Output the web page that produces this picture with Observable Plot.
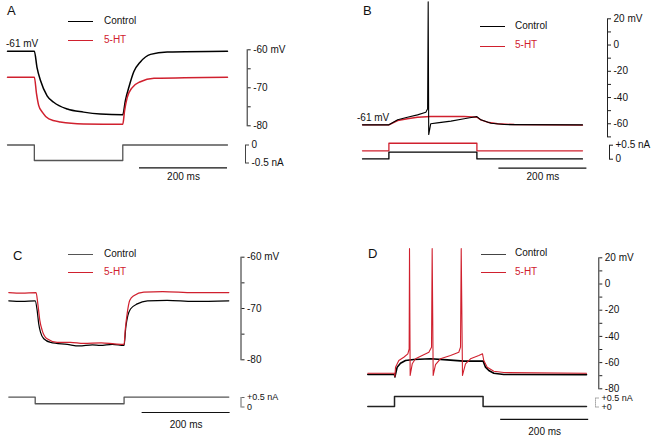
<!DOCTYPE html>
<html><head><meta charset="utf-8">
<script src="https://cdn.jsdelivr.net/npm/d3@7"></script>
<script src="https://cdn.jsdelivr.net/npm/@observablehq/plot@0.6"></script>
<style>
body{margin:0;background:#fff;}
#fig{position:relative;width:655px;height:440px;font-family:"Liberation Sans",Arial,sans-serif;color:#111;overflow:hidden;background:#fff}
#fig svg{position:absolute;overflow:visible;background:none}
.t{position:absolute;font-size:10px;white-space:nowrap;line-height:1;transform:translateY(-50%)}
.pl{position:absolute;font-size:13px;line-height:1;transform:translateY(-50%)}
.lg{position:absolute;width:25px;height:0;border-top:1.4px solid #000}
</style></head><body><div id="fig"></div><script>
// ---- data: time (ms) , membrane potential (mV) ----
const panelLabels = ["A", "B", "C", "D"];
const seriesNames = ["Control", "5-HT"];
const restLabel = "-61 mV";
const scaleLabel = "200 ms";

// Panel A (hyperpolarizing step)
const aControl = [[0,-60.4],[61,-60.4],[67,-64.6],[75,-68.1],[90,-72.1],[105,-73.8],[136,-75.6],[173,-76.4],[211,-76.9],[262,-77.1],[268,-73.3],[276,-69.8],[287,-65.8],[302,-63.2],[325,-61.2],[363,-60.6],[500,-60.4]];
const a5HT = [[0,-67.2],[61,-67.2],[66,-71.6],[71,-74.7],[79,-76.4],[94,-78.2],[120,-79.0],[173,-79.5],[262,-79.6],[266,-76.1],[272,-72.6],[283,-70],[302,-68.4],[333,-67.5],[500,-67.2]];
const aCurrent = [[0,0],[61,0],[61,-0.43],[262,-0.43],[262,0],[500,0]];
const aVTicks = [-60,-65,-70,-75,-80];
const aVLabels = ["-60 mV","","-70","","-80"];
const aITicks = [0,-0.5];
const aILabels = ["0","-0.5 nA"];
const aScaleBar = [300,500];

// Panel B (depolarizing step, spike in control)
const bControl = [[0,-60.8],[60,-60.8],[80,-57],[102,-55],[125,-53.2],[144,-51.2],[148,-48.6],[149.3,33],[150.5,-68.2],[155,-60],[170,-59.3],[201,-58],[231,-56.2],[260,-54.5],[269,-57],[292,-59.6],[322,-60.6],[500,-60.8]];
const b5HT = [[0,-60.8],[60,-60.8],[80,-57.5],[102,-56.2],[125,-55],[155,-54.5],[231,-54.5],[260,-55],[269,-57],[284,-58.8],[307,-60],[345,-60.6],[500,-61]];
const bCurrentControl = [[0,0.01],[60,0.01],[60,0.25],[260,0.25],[260,0.01],[500,0.01]];
const bCurrent5HT = [[0,0.3],[60,0.3],[60,0.57],[260,0.57],[260,0.3],[500,0.3]];
const bVTicks = [20,10,0,-10,-20,-30,-40,-50,-60,-70];
const bVLabels = ["20 mV","","0","","-20","","-40","","-60",""];
const bITicks = [0.5,0];
const bILabels = ["+0.5 nA","0"];
const bScaleBar = [310,510];

// Panel C
const cControl = [[0,-68.5],[30,-68.6],[60,-68.5],[64.5,-70.4],[68,-73],[72,-74.6],[79.5,-75.9],[95,-76.6],[133,-77],[160,-77.3],[190,-77.1],[208,-77.2],[235,-77.0],[262,-77.2],[266,-73.6],[270.5,-71.4],[276.6,-70.1],[292,-69.1],[315,-68.5],[360,-68.4],[420,-68.6],[500,-68.5]];
const c5HT = [[0,-66.9],[30,-67.0],[62,-66.9],[66,-69.1],[70.5,-72.3],[76,-74.3],[87,-75.9],[110,-76.6],[140,-76.6],[170,-76.8],[210,-76.7],[240,-76.9],[262,-77],[264.5,-74.3],[269,-71],[275,-68.4],[284,-67.5],[307,-66.8],[350,-66.7],[420,-66.9],[500,-66.9]];
const cCurrent = [[0,0.52],[60,0.52],[60,0.17],[262,0.17],[262,0.52],[500,0.52]];
const cVTicks = [-60,-65,-70,-75,-80];
const cVLabels = ["-60 mV","","-70","","-80"];
const cITicks = [0.5,0];
const cILabels = ["+0.5 nA","0"];
const cScaleBar = [303,503];

// Panel D (spikes under 5-HT)
const dControl = [[0,-69.1],[60.7,-69.1],[61.5,-71],[66.8,-63.5],[74.3,-60.5],[85.7,-58.4],[104.5,-57.6],[142.5,-57.1],[180.4,-57.9],[218.2,-58.9],[262.2,-58.9],[267.5,-63.5],[275,-66],[286.4,-68.1],[309,-69.1],[497,-69.2]];
const d5HT = [[0,-68.1],[60.7,-68.1],[61.5,-70.6],[63,-63.5],[70.5,-58.4],[81.8,-55.9],[91,-53.3],[94,-49.5],[94.8,27],[96.3,-69.8],[101,-60.9],[108.4,-57.1],[123.6,-54.6],[138.8,-52.1],[144.8,-48.2],[146.3,27],[148.6,-69.8],[153.9,-61.5],[165,-57.1],[188,-54.6],[206.8,-52.1],[210.7,-48.2],[212.3,27],[215.2,-69.8],[222,-60.9],[233.4,-57.1],[252.3,-54.6],[260.7,-53.3],[263.6,-58.4],[271.4,-63.5],[286.4,-66.6],[309,-67.6],[497,-68.1]];
const dCurrent = [[0,0.03],[60.7,0.03],[60.7,0.58],[262,0.58],[262,0.03],[497,0.03]];
const dVTicks = [20,10,0,-10,-20,-30,-40,-50,-60,-70,-80];
const dVLabels = ["20 mV","","0","","-20","","-40","","-60","","-80"];
const dITicks = [0.5,0];
const dILabels = ["+0.5 nA","+0"];
const dScaleBar = [302,502];

const RED = "#d0202e";
const fig = document.getElementById("fig");
const FONT = '"Liberation Sans", Arial, sans-serif';

function place(p, left, top) {
  p.style.left = left + "px"; p.style.top = top + "px";
  fig.appendChild(p);
}

function tracePlot(o) {
  const fmt = (d) => { const i = o.ticks.indexOf(d); return i >= 0 ? o.labels[i] : ""; };
  const marks = [
    Plot.frame({anchor: "right", stroke: o.axisColor || "#222", strokeWidth: 1, strokeDasharray: o.dash || null}),
    Plot.axisY({anchor: "right", label: null, ticks: o.ticks, tickFormat: fmt, tickSize: 3, tickPadding: 3, stroke: o.axisColor || "#222", fontSize: o.fs || 10})
  ];
  for (const s of o.series) {
    marks.push(Plot.line(s.data, {x: d => d[0], y: d => d[1], stroke: s.color, strokeWidth: s.width || 1.3, curve: s.curve || "linear"}));
  }
  if (o.bar) {
    marks.push(Plot.ruleY([{v: o.barY, a: o.bar[0], b: o.bar[1]}], {y: "v", x1: "a", x2: "b", stroke: "#111", strokeWidth: 1.2}));
    marks.push(Plot.text([{v: o.barY, m: (o.bar[0] + o.bar[1]) / 2, s: scaleLabel}], {x: "m", y: "v", text: "s", dy: o.barDy, fill: "#111", fontSize: 10}));
  }
  const p = Plot.plot({
    width: o.w, height: o.h,
    marginLeft: o.ml, marginRight: o.mr, marginTop: o.mt, marginBottom: o.mb,
    x: {domain: [0, 500], range: o.xr, axis: null, label: null},
    y: {domain: o.yd, label: null},
    style: {fontFamily: FONT, fontSize: "10px", background: "none", overflow: "visible", color: "#111"},
    marks
  });
  place(p, o.left, o.top);
}

function txt(s, x, y, cls, color) {
  const d = document.createElement("div");
  d.className = cls; d.textContent = s;
  d.style.left = x + "px"; d.style.top = y + "px";
  if (color) d.style.color = color;
  fig.appendChild(d);
}
function legLine(x, y, color) {
  const d = document.createElement("div");
  d.className = "lg"; d.style.left = x + "px"; d.style.top = y + "px";
  d.style.borderTopColor = color;
  fig.appendChild(d);
}

// ---- Panel A ----
tracePlot({left: 0, top: 0, w: 330, h: 140, ml: 7, mr: 83.3, mt: 49.3, mb: 14.7, xr: [7, 227], yd: [-80, -60],
  ticks: aVTicks, labels: aVLabels,
  series: [{data: aControl, color: "#000", width: 1.5, curve: "monotone-x"}, {data: a5HT, color: RED, width: 1.5, curve: "monotone-x"}]});
tracePlot({left: 0, top: 130, w: 330, h: 60, ml: 7, mr: 85, mt: 14.5, mb: 27.5, xr: [7, 227], yd: [-0.5, 0],
  ticks: aITicks, labels: aILabels, axisColor: "#444",
  series: [{data: aCurrent, color: "#555", width: 1.3}],
  bar: aScaleBar, barY: -0.633, barDy: 9});

// ---- Panel B ----
tracePlot({left: 330, top: 0, w: 325, h: 145, ml: 32, mr: 48, mt: 18.3, mb: 8.6, xr: [32, 252], yd: [-70, 20],
  ticks: bVTicks, labels: bVLabels,
  series: [{data: b5HT, color: RED, width: 1.4}, {data: bControl, color: "#000", width: 1.1}]});
tracePlot({left: 330, top: 130, w: 325, h: 60, ml: 32, mr: 46, mt: 14.7, mb: 31.3, xr: [32, 252], yd: [0, 0.5],
  ticks: bITicks, labels: bILabels,
  series: [{data: bCurrent5HT, color: RED, width: 1.3}, {data: bCurrentControl, color: "#000", width: 1.3}],
  bar: bScaleBar, barY: -0.32, barDy: 9});

// ---- Panel C ----
tracePlot({left: 0, top: 220, w: 330, h: 150, ml: 8.3, mr: 89.5, mt: 36.7, mb: 10.7, xr: [8.3, 228.3], yd: [-80, -60],
  ticks: cVTicks, labels: cVLabels,
  series: [{data: cControl, color: "#000", width: 1.2, curve: "monotone-x"}, {data: c5HT, color: RED, width: 1.2, curve: "monotone-x"}]});
tracePlot({left: 0, top: 380, w: 330, h: 50, ml: 8.3, mr: 89.5, mt: 17, mb: 23.5, xr: [8.3, 228.3], yd: [0, 0.5],
  ticks: cITicks, labels: cILabels, axisColor: "#666", fs: 9,
  series: [{data: cCurrent, color: "#555", width: 1.3}],
  bar: cScaleBar, barY: -0.29, barDy: 12});

// ---- Panel D ----
tracePlot({left: 330, top: 220, w: 325, h: 175, ml: 37.3, mr: 56.7, mt: 37.3, mb: 6.7, xr: [37.3, 257.3], yd: [-80, 20],
  ticks: dVTicks, labels: dVLabels,
  series: [{data: dControl, color: "#000", width: 1.6}, {data: d5HT, color: RED, width: 1.1}]});
tracePlot({left: 330, top: 385, w: 325, h: 55, ml: 37.3, mr: 60, mt: 12.5, mb: 33.5, xr: [37.3, 257.3], yd: [0, 0.5],
  ticks: dITicks, labels: dILabels, axisColor: "#aaa", dash: "1,1", fs: 9,
  series: [{data: dCurrent, color: "#222", width: 1.5}],
  bar: dScaleBar, barY: -0.69, barDy: 12.7});

// ---- labels & legends ----
txt(panelLabels[0], 7, 10, "pl");
txt(panelLabels[1], 363, 10, "pl");
txt(panelLabels[2], 13, 255, "pl");
txt(panelLabels[3], 368, 253, "pl");

txt(restLabel, 6, 44, "t");
txt(restLabel, 357, 118, "t");

legLine(68, 21, "#000"); txt(seriesNames[0], 104, 21, "t");
legLine(68, 40, RED); txt(seriesNames[1], 104, 40, "t", RED);
legLine(480, 26, "#000"); txt(seriesNames[0], 515, 26, "t");
legLine(480, 46, RED); txt(seriesNames[1], 515, 45, "t", RED);
legLine(68, 254, "#555"); txt(seriesNames[0], 104, 254, "t");
legLine(68, 272, RED); txt(seriesNames[1], 104, 272, "t", RED);
legLine(481, 254, "#444"); txt(seriesNames[0], 515, 253, "t");
legLine(481, 272, RED); txt(seriesNames[1], 515, 272, "t", RED);
</script></body></html>
